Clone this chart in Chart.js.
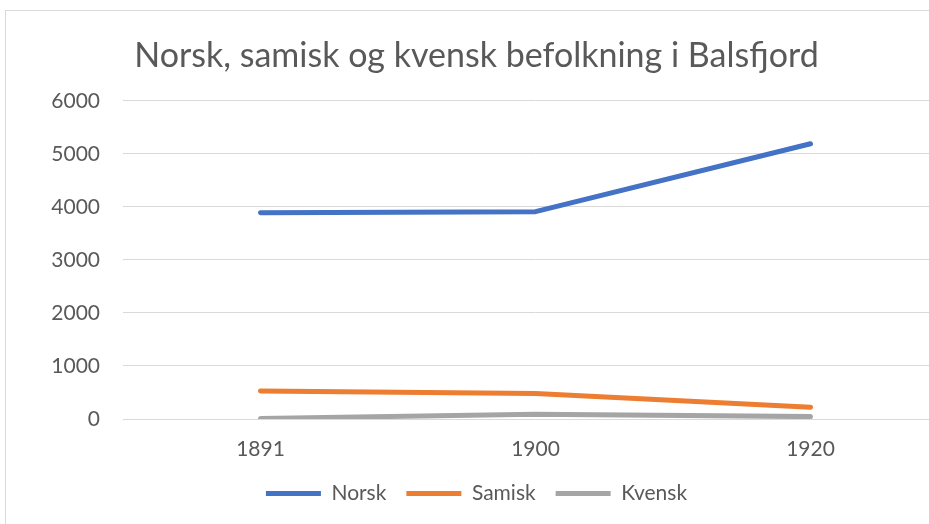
<!DOCTYPE html>
<html>
<head>
<meta charset="utf-8">
<script src="https://cdn.jsdelivr.net/npm/chart.js@4/dist/chart.umd.min.js"></script>
<style>
  html, body { margin: 0; padding: 0; background: #fff; overflow: hidden; }
  #frame {
    position: absolute; left: 5px; top: 10px;
    width: 960px; height: 530px;
    border: 1px solid #d9d9d9; box-sizing: border-box;
  }
  #wrap { position: absolute; left: 5px; top: 10px; width: 945px; height: 514px; }
</style>
</head>
<body>
<div id="frame"></div>
<div id="wrap"><canvas id="chart"></canvas></div>
<script>
// chart data
const years = ['1891', '1900', '1920'];
const norsk = [3890, 3910, 5190];
const samisk = [530, 480, 220];
const kvensk = [10, 90, 45];
const yTicks = [0, 1000, 2000, 3000, 4000, 5000, 6000];

const FONT = 'Lato, "Open Sans", sans-serif';
const GREY = '#595959';

function line(label, data, color) {
  return {
    label: label,
    data: data,
    borderColor: color,
    backgroundColor: color,
    borderWidth: 5,
    borderCapStyle: 'round',
    borderJoinStyle: 'round',
    pointRadius: 0,
    pointHoverRadius: 0,
    fill: false,
    tension: 0
  };
}

new Chart(document.getElementById('chart'), {
  type: 'line',
  data: {
    labels: years,
    datasets: [
      line('Norsk', norsk, '#4472C4'),
      line('Samisk', samisk, '#ED7D31'),
      line('Kvensk', kvensk, '#A5A5A5')
    ]
  },
  options: {
    responsive: true,
    maintainAspectRatio: false,
    animation: false,
    layout: { padding: { top: 0, right: 2, bottom: 10, left: 0 } },
    plugins: {
      title: {
        display: true,
        text: 'Norsk, samisk og kvensk befolkning i Balsfjord',
        color: GREY,
        font: { family: FONT, size: 34, weight: 'normal', lineHeight: 1.2 },
        padding: { top: 26, bottom: 24 }
      },
      legend: {
        position: 'bottom',
        labels: {
          color: GREY,
          font: { family: FONT, size: 21 },
          usePointStyle: true,
          pointStyle: 'line',
          pointStyleWidth: 55,
          padding: 20
        }
      },
      tooltip: { enabled: false }
    },
    scales: {
      x: {
        offset: true,
        grid: { display: false, drawTicks: false },
        border: { display: false },
        ticks: { color: GREY, font: { family: FONT, size: 21 }, padding: 18 },
        afterFit: (s) => { s.height = 44; }
      },
      y: {
        min: 0,
        max: 6000,
        afterBuildTicks: (s) => { s.ticks = yTicks.map(v => ({ value: v })); },
        grid: { color: '#d9d9d9', lineWidth: 1, drawTicks: false },
        border: { display: false },
        ticks: {
          color: GREY,
          font: { family: FONT, size: 21 },
          padding: 23,
          callback: (v) => String(v)
        },
        afterFit: (s) => { s.width = 118; }
      }
    }
  }
});
</script>
</body>
</html>
